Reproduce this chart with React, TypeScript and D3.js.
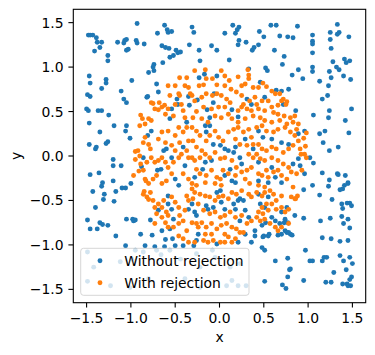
import React from "react";
import * as d3 from "d3";

// Without rejection (uniform square)
const blueX: number[] = [
-1.48,-1.46,-1.43,-1.39,-1.41,-1.38,-1.33,-1.35,-1.26,-1.26,-1.15,-1.07,-1.08,-1.05,-1.05,-1.03,-0.93,-0.94,-0.93,-0.85,-0.70,-0.62,-0.59,-0.58,-0.54,-0.65,-0.61,-0.57,-0.49,-0.47,-0.44,-0.52,-0.56,-0.64,-0.74,-0.75,-0.74,-0.80,-0.31,-0.29,-0.34,-0.23,-0.22,-0.09,-0.03,0.11,0.15,0.22,0.20,0.18,0.06,0.22,0.30,0.21,0.45,0.50,0.44,0.37,0.39,0.58,0.64,0.68,0.77,0.83,0.88,0.62,0.73,0.71,0.52,0.54,0.89,0.82,0.94,1.05,1.05,1.05,1.05,1.05,1.05,1.13,1.25,1.25,1.26,1.28,1.24,1.26,1.23,1.33,1.35,1.33,1.32,1.35,1.46,1.41,1.43,1.47,1.40,1.48,
-1.47,-1.46,-1.33,-1.28,-1.28,-1.49,-1.46,-1.11,-1.08,-1.05,-0.99,-0.82,-1.50,-1.48,-1.37,-1.33,-1.25,0.86,1.16,1.22,1.24,1.23,1.06,1.49,
-1.47,-1.35,-1.19,-1.05,-1.06,-1.01,-1.47,-1.39,-1.40,-1.26,-1.28,1.42,1.46,1.19,1.13,1.17,1.24,1.34,1.06,
-1.20,-1.20,-1.11,-1.46,-1.36,-1.32,-1.33,-1.20,-1.43,-1.30,-1.17,-1.10,-1.06,-1.00,-1.31,-1.19,-1.40,1.16,1.24,1.33,1.34,1.42,1.45,1.45,1.36,1.39,1.41,1.23,1.05,0.95,1.27,1.13,1.38,1.44,1.47,1.49,1.39,
-1.49,-1.46,-1.35,-1.32,-1.38,-1.26,-1.17,-1.05,-0.98,-0.97,-0.95,-0.89,-0.78,-0.76,-0.61,-0.53,-0.56,-0.65,-1.06,-0.84,-0.73,-0.62,-0.50,-0.41,-0.29,0.95,1.14,1.25,1.38,1.40,1.45,1.47,1.36,1.45,1.16,1.26,0.74,0.76,0.66,0.73,0.77,0.80,0.82,0.52,0.56,0.50,0.40,0.48,0.51,0.97,
0.77,0.63,0.80,0.79,0.77,1.02,1.05,1.16,1.18,1.21,1.36,1.40,1.47,1.43,1.29,1.50,1.49,1.47,1.20,1.26,1.39,1.44,1.45,1.48,0.95,0.71,0.75,0.51,
-1.49,-1.42,-1.49,-1.23,-1.12,-0.99,-0.95,-0.86,-0.71,-0.66,-0.56,-0.44,-0.26,-0.22,-0.08,-0.05,0.12,0.14,0.08,0.21,0.30,0.23,-0.22,-0.39,-0.80,-1.01,
-0.81,-0.69,-0.71,-0.48,-0.47,-0.54,-0.56,-0.35,-0.34,-0.37,
-0.23,-0.17,-0.25,-0.14,-0.11,-0.07,-0.06,-0.03,0.14,0.33,0.31,0.21,0.36,
0.46,0.64,0.70,0.78,0.72,0.51,
-0.88,-0.86,-0.81,-0.77,-0.70,-0.66,-0.63,-0.60,-0.54,-0.41,-0.39,-0.50,-0.46,
-0.16,-0.11,-0.15,-0.07,0.01,0.06,0.10,0.16,0.18,0.23,0.25,0.12,0.06,0.14,0.18,-0.28,-0.19,-0.16,-0.09,0.29,0.38,
0.44,0.49,0.59,0.70,0.78,0.89,0.96,1.02,0.96,0.91,0.89,0.83,0.63,0.55,0.70,0.59,0.44,0.44,
-0.69,-0.58,-0.58,-0.54,-0.52,-0.35,
-0.31,-0.28,-0.26,-0.24,-0.15,-0.13,-0.07,-0.03,0.01,0.02,0.06,0.16,0.18,0.21,0.23,0.27,0.29,0.33,0.23,-0.26,-0.03,0.21,0.29,0.36,0.40,
0.44,0.46,0.51,0.55,0.59,0.63,0.68,0.74,0.70,0.76,0.85,0.48,0.49,0.55,0.70,0.78
];
const blueY: number[] = [
1.36,1.36,1.36,1.33,1.18,1.28,1.28,1.22,1.13,1.07,1.28,1.30,1.27,1.31,1.19,1.20,1.49,1.30,1.27,1.26,1.38,1.47,1.42,1.39,1.40,1.24,1.22,1.21,1.19,1.16,1.17,1.13,1.11,1.05,1.03,1.00,0.96,0.94,1.45,1.39,1.25,1.19,1.07,1.24,1.19,1.08,1.47,1.45,1.42,1.38,1.38,1.30,1.28,1.25,1.40,1.34,1.25,1.19,1.22,1.47,1.47,1.35,1.34,1.33,1.46,1.19,1.12,1.03,0.99,0.96,0.97,0.91,0.87,1.36,1.29,1.26,1.16,1.00,0.95,0.84,1.39,1.31,1.21,1.06,0.95,0.88,0.79,1.48,1.39,1.37,1.00,0.97,1.34,1.09,1.05,1.07,0.90,0.86,
0.90,0.82,0.76,0.86,0.82,0.69,0.67,0.73,0.64,0.60,0.85,0.66,0.53,0.51,0.51,0.51,0.46,0.51,0.64,0.68,0.51,0.43,0.46,0.53,
0.37,0.27,0.34,0.34,0.28,0.20,0.13,0.10,0.08,0.16,0.14,0.40,0.26,0.28,0.25,0.15,0.06,0.10,-0.08,
-0.04,-0.11,-0.11,-0.21,-0.19,-0.30,-0.34,-0.28,-0.40,-0.43,-0.40,-0.36,-0.36,-0.31,-0.49,-0.51,-0.58,-0.19,-0.27,-0.20,-0.21,-0.22,-0.30,-0.31,-0.38,-0.37,-0.33,-0.34,-0.33,-0.38,-0.49,-0.44,-0.54,-0.53,-0.53,-0.56,-0.59,
-0.72,-0.82,-0.75,-0.77,-0.82,-0.78,-0.90,-0.71,-0.71,-0.73,-0.72,-0.88,-0.72,-0.89,-0.94,-0.93,-0.82,-0.84,-1.01,-1.01,-1.02,-1.02,-1.01,-1.01,-1.01,-0.70,-0.73,-0.70,-0.68,-0.76,-0.71,-0.81,-0.96,-0.95,-0.92,-0.93,-0.84,-0.86,-0.89,-0.75,-0.75,-0.88,-0.89,-0.75,-0.88,-0.90,-0.90,-1.03,-1.06,-1.06,
-1.15,-1.18,-1.27,-1.28,-1.36,-1.18,-1.18,-1.18,-1.14,-1.14,-1.12,-1.18,-1.14,-1.28,-1.31,-1.21,-1.36,-1.39,-1.42,-1.42,-1.44,-1.44,-1.46,-1.46,-1.40,-1.45,-1.49,-1.41,
-1.08,-1.25,-1.41,-1.46,-1.19,-1.16,-1.06,-1.08,-1.06,-1.11,-1.06,-1.16,-1.10,-1.25,-1.06,-1.14,-1.25,-1.40,-1.46,-1.46,-1.46,-1.21,-1.48,-1.38,-1.38,-1.48,
0.67,0.72,0.81,0.64,0.58,0.53,0.42,0.67,0.57,0.38,
0.88,0.92,0.63,0.52,0.43,0.60,0.70,0.90,0.52,0.98,0.64,0.44,0.58,
0.83,0.74,0.73,0.75,0.58,0.66,
-0.12,-0.02,0.23,0.28,-0.16,-0.15,0.06,0.08,-0.02,0.10,-0.11,-0.26,-0.33,
0.34,0.34,0.27,0.13,0.12,0.08,0.06,0.04,0.10,-0.02,-0.09,-0.15,-0.22,-0.28,-0.30,-0.24,-0.15,-0.07,-0.05,0.19,0.08,
0.28,0.21,0.19,0.15,0.13,0.25,0.28,-0.02,-0.20,-0.11,-0.03,-0.09,-0.24,-0.30,-0.30,-0.13,-0.07,-0.28,
-0.61,-0.45,-0.54,-0.60,-0.71,-0.60,
-0.54,-0.63,-0.67,-0.88,-0.56,-0.60,-0.58,-0.41,-0.39,-0.52,-0.60,-0.54,-0.60,-0.50,-0.48,-0.50,-0.61,-0.69,-0.73,-0.95,-0.99,-0.97,-0.88,-0.97,-0.84,
-0.43,-0.54,-0.58,-0.46,-0.69,-0.73,-0.76,-0.71,-0.63,-0.58,-0.67,-0.78,-0.91,-0.90,-0.88,-0.86
];

// With rejection (inside the unit circle)
const orangeX: number[] = [
-0.89,-0.87,-0.90,-0.84,-0.80,-0.77,-0.77,-0.75,-0.73,-0.69,-0.68,-0.65,-0.62,-0.61,-0.58,-0.56,-0.58,-0.52,-0.50,-0.46,-0.45,-0.43,-0.41,-0.39,-0.39,-0.37,-0.45,-0.50,-0.35,-0.33,
-0.28,-0.16,-0.15,-0.18,-0.23,-0.31,-0.28,-0.20,-0.15,-0.08,-0.03,0.02,0.08,0.12,0.06,-0.01,-0.09,-0.18,-0.26,-0.30,-0.20,-0.13,-0.05,0.02,0.10,0.14,0.21,0.25,0.27,0.31,0.36,0.38,0.29,0.21,-0.08,-0.03,0.02,0.06,0.11,0.06,0.13,0.21,0.25,0.29,0.33,0.33,0.38,0.40,0.34,0.25,0.19,
0.44,0.49,0.53,0.59,0.63,0.68,0.70,0.76,0.66,0.59,0.51,0.44,0.42,0.48,0.55,0.61,0.66,0.73,0.80,0.83,0.76,0.68,0.59,0.51,0.46,0.89,0.85,
-0.95,-0.92,-0.90,-0.95,-0.86,-0.84,-0.80,-0.78,-0.77,-0.82,-0.86,-0.84,-0.80,-0.75,-0.71,-0.73,-0.69,-0.65,-0.61,-0.58,-0.52,-0.46,-0.43,-0.37,-0.35,-0.50,-0.54,-0.61,-0.69,-0.65,-0.58,-0.50,-0.46,-0.41,-0.37,-0.35,-0.45,-0.54,-0.60,-0.65,-0.41,-0.35,
-0.31,-0.26,-0.22,-0.30,-0.26,-0.20,-0.15,-0.11,-0.05,-0.01,0.04,0.10,0.16,0.21,0.27,0.33,0.36,0.38,0.31,0.23,0.18,-0.31,-0.28,-0.22,-0.16,-0.11,-0.05,0.01,0.06,0.14,0.19,0.25,0.31,0.36,0.38,0.33,-0.26,-0.22,-0.15,-0.09,-0.03,0.01,0.04,0.10,0.18,0.29,0.34,-0.31,-0.26,-0.16,-0.05,0.02,
0.42,0.48,0.53,0.61,0.66,0.74,0.80,0.85,0.89,0.83,0.78,0.72,0.64,0.59,0.53,0.48,0.44,0.42,0.46,0.51,0.59,0.66,0.72,0.78,0.81,0.87,0.93,0.98,0.91,0.97,0.96,0.66,0.61,0.53,0.48,0.44,0.55,0.70,0.76,0.44,0.51,
-0.86,-0.82,-0.78,-0.75,-0.73,-0.71,-0.69,-0.65,-0.63,-0.60,-0.58,-0.54,-0.50,-0.46,-0.45,-0.41,-0.46,-0.52,-0.58,-0.61,-0.65,-0.73,-0.37,-0.35,-0.39,-0.37,-0.46,-0.41,-0.35,
-0.31,-0.28,-0.22,-0.16,-0.11,-0.05,-0.01,0.04,0.10,0.14,0.19,0.25,0.33,0.36,-0.30,-0.24,-0.18,-0.11,-0.05,0.01,0.06,0.12,0.18,0.25,0.31,0.36,-0.31,-0.26,-0.20,-0.15,-0.09,-0.03,0.02,0.08,0.14,0.19,0.23,0.27,0.06,0.10,0.14,0.06,0.01,-0.07,-0.13,-0.18,-0.24,-0.16,-0.09,0.18,-0.28,
0.42,0.48,0.51,0.57,0.61,0.64,0.59,0.53,0.48,0.44,0.49,0.55,0.64,0.70,0.74,0.78,0.81,0.85,0.70,0.42,0.46,0.51,0.57,0.63,0.66,0.70,0.78,
-0.91,-0.97,-0.89,-0.83,-0.85,-0.80,0.83,0.86,0.88,0.32,0.75,0.72,0.87,0.98,0.95,0.92
];
const orangeY: number[] = [
0.46,0.42,0.34,0.36,0.42,0.40,0.60,0.59,0.53,0.52,0.60,0.55,0.57,0.47,0.79,0.68,0.53,0.45,0.58,0.70,0.68,0.58,0.51,0.43,0.79,0.88,0.88,0.79,0.77,0.70,
0.96,0.97,0.87,0.80,0.79,0.68,0.62,0.66,0.70,0.68,0.70,0.68,0.64,0.60,0.55,0.55,0.53,0.55,0.50,0.43,0.42,0.38,0.45,0.43,0.47,0.42,0.51,0.55,0.58,0.53,0.51,0.45,0.42,0.38,0.87,0.80,0.96,0.90,0.85,0.79,0.75,0.89,0.79,0.81,0.91,0.87,0.77,0.66,0.62,0.68,0.72,
0.77,0.82,0.78,0.73,0.70,0.70,0.62,0.61,0.57,0.55,0.51,0.53,0.58,0.62,0.62,0.49,0.47,0.45,0.43,0.38,0.36,0.40,0.38,0.40,0.43,0.36,0.45,
0.05,0.06,0.00,-0.04,0.15,0.21,0.13,0.08,-0.02,-0.07,-0.16,-0.26,-0.31,-0.26,-0.22,-0.07,-0.05,-0.02,-0.07,-0.13,-0.07,-0.02,0.02,0.06,-0.02,0.06,0.12,0.15,0.19,0.27,0.28,0.23,0.32,0.27,0.32,0.17,0.15,-0.20,-0.28,-0.31,-0.20,-0.26,
0.32,0.28,0.23,0.17,0.10,0.06,0.17,0.23,0.28,0.21,0.17,0.27,0.30,0.32,0.27,0.30,0.21,0.13,0.12,0.13,0.19,-0.02,-0.05,-0.02,0.02,-0.02,0.04,-0.03,-0.02,-0.05,-0.13,-0.18,-0.16,-0.13,-0.02,0.02,-0.15,-0.20,-0.22,-0.16,-0.24,-0.26,-0.16,-0.20,-0.22,-0.26,-0.31,-0.31,-0.33,-0.30,-0.31,-0.33,
0.32,0.34,0.28,0.27,0.30,0.32,0.27,0.23,0.17,0.12,0.08,0.04,0.08,0.10,0.06,0.08,0.13,0.02,-0.03,-0.05,-0.02,-0.05,-0.09,-0.13,-0.18,-0.20,-0.16,-0.02,0.08,0.11,0.02,-0.16,-0.18,-0.16,-0.22,-0.20,-0.24,-0.22,-0.26,-0.33,-0.35,
-0.43,-0.46,-0.41,-0.50,-0.58,-0.65,-0.54,-0.58,-0.50,-0.63,-0.67,-0.46,-0.52,-0.58,-0.67,-0.73,-0.76,-0.80,-0.80,-0.75,-0.69,-0.76,-0.45,-0.50,-0.61,-0.84,-0.90,-0.93,-0.97,
-0.37,-0.41,-0.43,-0.45,-0.46,-0.50,-0.46,-0.45,-0.48,-0.41,-0.43,-0.39,-0.43,-0.46,-0.48,-0.54,-0.61,-0.65,-0.63,-0.69,-0.67,-0.63,-0.69,-0.67,-0.76,-0.73,-0.75,-0.76,-0.75,-0.80,-0.76,-0.82,-0.78,-0.76,-0.80,-0.82,-0.86,-0.86,-0.88,-0.91,-0.97,-0.97,-0.97,-0.95,-0.97,-0.95,-0.80,-0.88,-0.88,-0.93,-0.97,
-0.41,-0.45,-0.41,-0.39,-0.43,-0.50,-0.54,-0.54,-0.58,-0.63,-0.65,-0.61,-0.60,-0.58,-0.63,-0.60,-0.46,-0.48,-0.45,-0.69,-0.73,-0.71,-0.76,-0.80,-0.84,-0.80,-0.76,
-0.17,-0.22,-0.09,-0.28,-0.40,-0.49,-0.35,-0.48,-0.45,0.97,0.58,0.64,0.30,0.26,0.20,0.02
];

const xTicks: number[] = [-1.5, -1.0, -0.5, 0.0, 0.5, 1.0, 1.5];
const yTicks: number[] = [-1.5, -1.0, -0.5, 0.0, 0.5, 1.0, 1.5];
const seriesNames: string[] = ["Without rejection", "With rejection"];
const seriesColors: string[] = ["#1f77b4", "#ff7f0e"];

const W = 375, H = 355;
const L = 73.3, R = 365.7, T = 9.3, B = 302.7;
const FONT = "DejaVu Sans, sans-serif";

const fmt = (v: number) => (v < 0 ? "\u2212" : "") + Math.abs(v).toFixed(1);

export default function App() {
  const x = d3.scaleLinear().domain([-1.65, 1.65]).range([L, R]);
  const y = d3.scaleLinear().domain([-1.65, 1.65]).range([B, T]);
  const blue = d3.zip(blueX, blueY);
  const orange = d3.zip(orangeX, orangeY);
  const r = 2.45;
  return (
    <svg width={W} height={H} style={{ position: "absolute", left: 0, top: 0, background: "#fff" }} fontFamily={FONT}>
      <rect x={0} y={0} width={W} height={H} fill="#fff" />
      <g>
        {blue.map((d, i) => (
          <circle key={"b" + i} cx={x(d[0])} cy={y(d[1])} r={r} fill={seriesColors[0]} />
        ))}
        {orange.map((d, i) => (
          <circle key={"o" + i} cx={x(d[0])} cy={y(d[1])} r={r} fill={seriesColors[1]} />
        ))}
      </g>
      <g>
        <rect x={80.7} y={248.3} width={168.3} height={47} rx={2.8} fill="#fff" fillOpacity={0.8} stroke="#cccccc" strokeOpacity={0.8} strokeWidth={1} />
        {seriesNames.map((n, i) => (
          <g key={n}>
            <circle cx={100} cy={260.7 + i * 22} r={r} fill={seriesColors[i]} />
            <text x={124.3} y={265.7 + i * 22} fontSize={13.9} fill="#000">{n}</text>
          </g>
        ))}
      </g>
      <rect x={L} y={T} width={R - L} height={B - T} fill="none" stroke="#000" strokeWidth={1.1} />
      {xTicks.map((t) => (
        <g key={"xt" + t}>
          <line x1={x(t)} x2={x(t)} y1={B} y2={B + 4.9} stroke="#000" strokeWidth={1.1} />
          <text x={x(t)} y={323.4} fontSize={13.9} textAnchor="middle" fill="#000">{fmt(t)}</text>
        </g>
      ))}
      {yTicks.map((t) => (
        <g key={"yt" + t}>
          <line x1={L} x2={L - 4.9} y1={y(t)} y2={y(t)} stroke="#000" strokeWidth={1.1} />
          <text x={L - 9.7} y={y(t) + 5} fontSize={13.9} textAnchor="end" fill="#000">{fmt(t)}</text>
        </g>
      ))}
      <text x={(L + R) / 2} y={342} fontSize={13.9} textAnchor="middle" fill="#000">x</text>
      <text transform={`translate(21,${(T + B) / 2}) rotate(-90)`} fontSize={13.9} textAnchor="middle" fill="#000">y</text>
    </svg>
  );
}
